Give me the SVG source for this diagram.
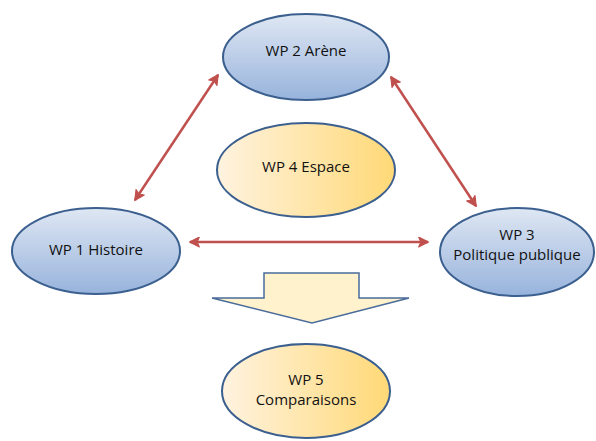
<svg xmlns="http://www.w3.org/2000/svg" width="596" height="441" viewBox="0 0 596 441">
<defs>
<linearGradient id="gb" x1="0" y1="0" x2="0" y2="1">
<stop offset="0" stop-color="#dfe7f3"/>
<stop offset="1" stop-color="#97b3dc"/>
</linearGradient>
<linearGradient id="gy" x1="0" y1="0" x2="1" y2="0">
<stop offset="0" stop-color="#fff3e0"/>
<stop offset="1" stop-color="#ffd977"/>
</linearGradient>
<marker id="ah" viewBox="0 0 10 10" refX="9" refY="5" markerWidth="4.4" markerHeight="4.4" orient="auto-start-reverse" markerUnits="strokeWidth">
<path d="M0.5,0.5 L9.5,5 L0.5,9.5 L2.5,5 Z" fill="#c0504d" stroke="#c0504d" stroke-width="1" stroke-linejoin="round"/>
</marker>
<style>
.blue{fill:url(#gb);stroke:#3b5f8e;stroke-width:2}
.yel{fill:url(#gy);stroke:#3b5f8e;stroke-width:2}
.t{font-family:"Open Sans","Liberation Sans",sans-serif;font-size:15px;fill:#111;text-anchor:middle}
.c{stroke:#c0504d;stroke-width:2.5;fill:none;marker-start:url(#ah);marker-end:url(#ah)}
</style>
</defs>
<g id="connectors">
<line class="c" x1="218" y1="75" x2="135" y2="200"/>
<line class="c" x1="391" y1="77" x2="476" y2="206"/>
<line class="c" x1="190" y1="242" x2="428" y2="242"/>
</g>
<g id="arrow5">
<path d="M264,273 L359,273 L359,298 L409,298 L312,323 L212,298 L264,298 Z" fill="#fff2cc" stroke="#4a6c9b" stroke-width="1.5"/>
</g>
<g id="wp2">
<ellipse class="blue" cx="306" cy="57" rx="83" ry="43"/>
<text class="t" x="306" y="56">WP 2 Arène</text>
</g>
<g id="wp4">
<ellipse class="yel" cx="306" cy="170" rx="89" ry="47"/>
<text class="t" x="306" y="172">WP 4 Espace</text>
</g>
<g id="wp1">
<ellipse class="blue" cx="96" cy="251" rx="84" ry="43"/>
<text class="t" x="96" y="255">WP 1 Histoire</text>
</g>
<g id="wp3">
<ellipse class="blue" cx="517" cy="252" rx="77" ry="44"/>
<text class="t" x="517" y="240">WP 3</text>
<text class="t" x="517" y="260">Politique publique</text>
</g>
<g id="wp5">
<ellipse class="yel" cx="306" cy="391" rx="84" ry="47"/>
<text class="t" x="306" y="385">WP 5</text>
<text class="t" x="306" y="405">Comparaisons</text>
</g>
</svg>
